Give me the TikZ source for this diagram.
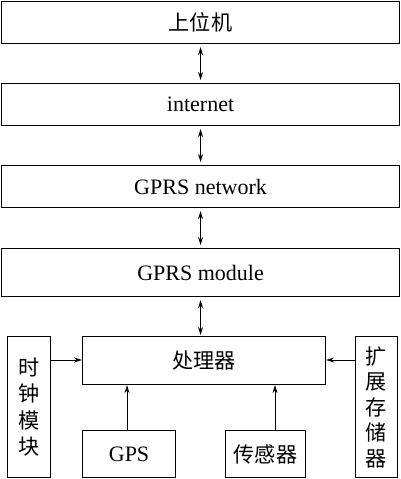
\documentclass[tikz,border=0pt]{standalone}
\usepackage{fontspec}
\setmainfont{Liberation Serif}
\newfontfamily\cjk{Noto Sans CJK SC}[Scale=0.96]
\usetikzlibrary{arrows.meta}
\begin{document}
\begin{tikzpicture}[x=1pt,y=-1pt,
  box/.style={draw, line width=1.1pt, anchor=north west, inner sep=0pt, font=\fontsize{22}{26.5}\selectfont},
  conn/.style={line width=1pt, -{Stealth[length=8pt,width=5pt]}},
  biconn/.style={line width=1pt, {Stealth[length=8pt,width=5pt]}-{Stealth[length=8pt,width=5pt]}}]
\useasboundingbox (0,0) rectangle (400,479);
\node[box, minimum width=398pt, minimum height=42pt] (pc) at (1,1) {\cjk 上位机};
\node[box, minimum width=398pt, minimum height=42pt] (inet) at (1,83) {internet};
\node[box, minimum width=398pt, minimum height=42pt] (gnet) at (1,165) {GPRS network};
\node[box, minimum width=398pt, minimum height=48pt] (gmod) at (1,248) {GPRS module};
\node[box, minimum width=243pt, minimum height=48pt] (cpu) at (82,336) {\cjk 处理器};
\node[box, minimum width=43pt, minimum height=141pt, align=center] (clk) at (7,336) {\cjk 时\\\cjk 钟\\\cjk 模\\\cjk 块};
\node[box, minimum width=42pt, minimum height=141pt, align=center, font=\fontsize{22}{25.5}\selectfont] (mem) at (355,336) {\cjk 扩\\\cjk 展\\\cjk 存\\\cjk 储\\\cjk 器};
\node[box, minimum width=93pt, minimum height=47pt] (gps) at (82,430) {GPS};
\node[box, minimum width=80pt, minimum height=47pt] (sen) at (225,430) {\cjk 传感器};
\draw[biconn] ([yshift=-3pt]pc.south) -- ([yshift=3pt]inet.north);
\draw[biconn] ([yshift=-3pt]inet.south) -- ([yshift=3pt]gnet.north);
\draw[biconn] ([yshift=-3pt]gnet.south) -- ([yshift=3pt]gmod.north);
\draw[biconn] ([yshift=-3pt]gmod.south) -- ([yshift=1pt]gmod.south |- cpu.north);
\draw[conn] (clk.east |- 0,360) -- (cpu.west |- 0,360);
\draw[conn] (mem.west |- 0,360) -- (cpu.east |- 0,360);
\draw[conn] (127,430) coordinate (g1) -- (g1 |- cpu.south);
\draw[conn] (275,430) coordinate (s1) -- (s1 |- cpu.south);
\end{tikzpicture}
\end{document}
